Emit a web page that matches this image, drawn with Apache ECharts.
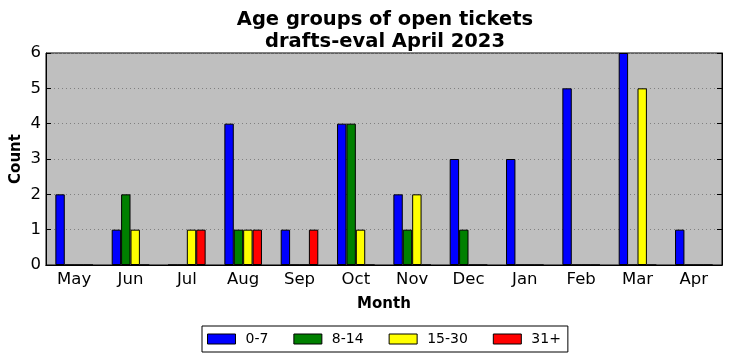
<!DOCTYPE html>
<html><head><meta charset="utf-8">
<script src="https://cdn.jsdelivr.net/npm/echarts@6/dist/echarts.min.js"></script>
<style>html,body{margin:0;padding:0;background:#fff}#c{width:732px;height:361px}</style>
</head><body><div id="c"></div>
<script>
const months = ['May','Jun','Jul','Aug','Sep','Oct','Nov','Dec','Jan','Feb','Mar','Apr'];
const age0_7   = [2,1,0,4,1,4,2,3,3,5,6,1];
const age8_14  = [0,2,0,1,0,4,1,1,0,0,0,0];
const age15_30 = [0,1,1,1,0,1,2,0,0,0,5,0];
const age31p   = [0,0,1,1,1,0,0,0,0,0,0,0];
const yTicks = [0,1,2,3,4,5,6];

const chart = echarts.init(document.getElementById('c'), null, {renderer:'canvas'});
const font = 'DejaVu Sans';
function bar(name, data, color){
  return {name, type:'bar', data, barWidth:9.4, barGap:'0%',
    itemStyle:{color, borderColor:'#000', borderWidth:1}, xAxisIndex:0, yAxisIndex:0};
}
chart.setOption({
  animation:false,
  textStyle:{fontFamily:font},
  title:{text:'Age groups of open tickets\ndrafts-eval April 2023', left:380, top:4, textAlign:'center',
    textStyle:{fontFamily:font, fontSize:19.5, fontWeight:'bold', color:'#000', lineHeight:22}},
  grid:{left:46, right:10, top:53, bottom:96, containLabel:false, outerBoundsMode:'none',
    show:true, backgroundColor:'#bfbfbf', borderColor:'#000', borderWidth:1},
  legend:{top:326, left:202, data:['0-7','8-14','15-30','31+'], icon:'rect', itemWidth:28, itemHeight:10,
    itemGap:25, borderColor:'#000', borderWidth:1, padding:[6,7,6,5], borderRadius:0,
    textStyle:{fontFamily:font, fontSize:14, color:'#000', padding:[0,0,0,5]},
    itemStyle:{borderColor:'#000', borderWidth:1}},
  xAxis:[
    {type:'category', data:months, position:'bottom', name:'Month', nameLocation:'middle', nameGap:32,
     nameMoveOverlap:false,
     nameTextStyle:{fontFamily:font, fontSize:15, fontWeight:'bold', color:'#000'},
     axisLine:{lineStyle:{color:'#000'}}, axisTick:{inside:true, alignWithLabel:true, length:5, lineStyle:{color:'#000'}},
     axisLabel:{fontFamily:font, fontSize:16.5, color:'#000', margin:6}},
    {type:'category', data:months, position:'top',
     axisLine:{lineStyle:{color:'#000'}}, axisTick:{inside:true, alignWithLabel:true, length:5, lineStyle:{color:'#000'}},
     axisLabel:{show:false}}
  ],
  yAxis:[
    {type:'value', min:yTicks[0], max:yTicks[yTicks.length-1], interval:1, position:'left', name:'Count',
     nameLocation:'middle', nameGap:22, nameMoveOverlap:false,
     nameTextStyle:{fontFamily:font, fontSize:15, fontWeight:'bold', color:'#000'},
     axisLine:{show:true, lineStyle:{color:'#000'}}, axisTick:{show:true, inside:true, length:5, lineStyle:{color:'#000'}},
     axisLabel:{fontFamily:font, fontSize:16.5, color:'#000', margin:5},
     splitLine:{show:true, lineStyle:{color:'#808080', type:[1,3], width:1}}},
    {type:'value', min:yTicks[0], max:yTicks[yTicks.length-1], interval:1, position:'right',
     axisLine:{show:true, lineStyle:{color:'#000'}}, axisTick:{show:true, inside:true, length:5, lineStyle:{color:'#000'}},
     axisLabel:{show:false}, splitLine:{show:false}}
  ],
  series:[
    bar('0-7', age0_7, '#0000ff'),
    bar('8-14', age8_14, '#008000'),
    bar('15-30', age15_30, '#ffff00'),
    bar('31+', age31p, '#ff0000')
  ]
});
</script></body></html>
